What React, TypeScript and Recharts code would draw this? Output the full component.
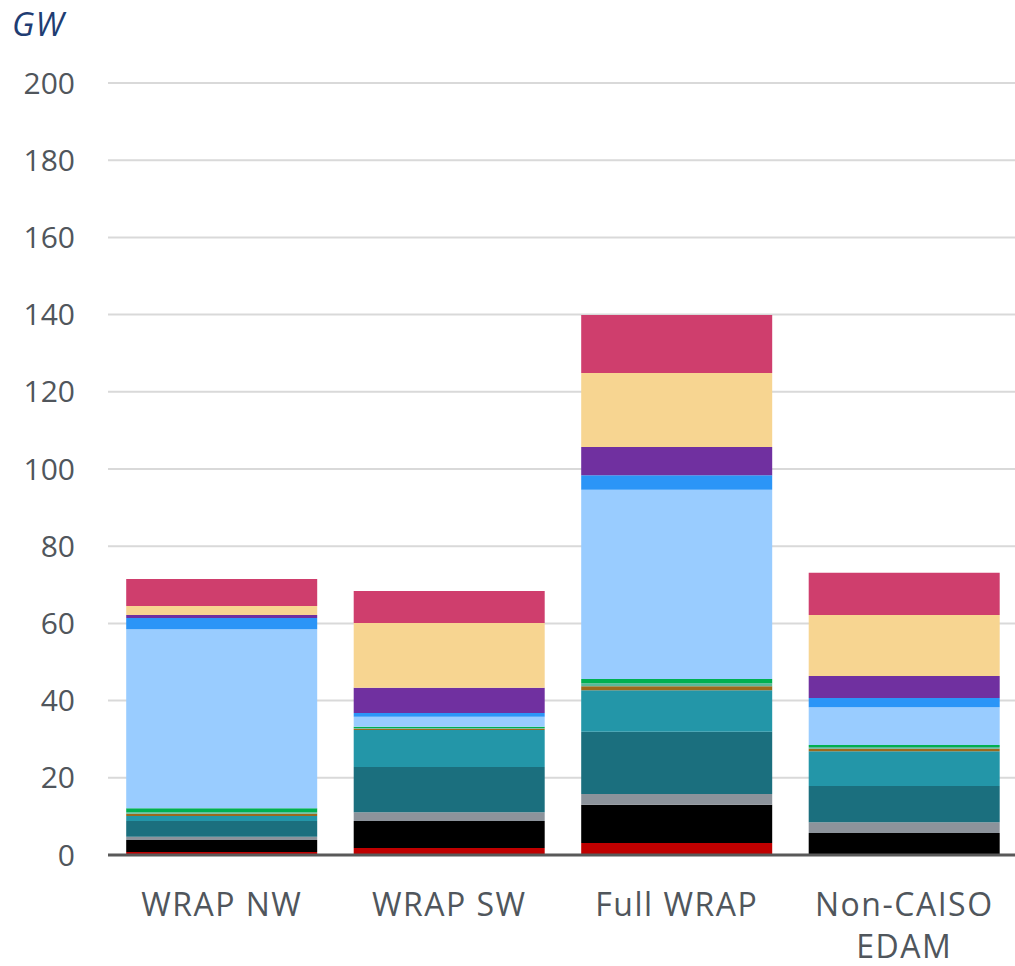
import React from "react";
import { BarChart, Bar, XAxis, YAxis, CartesianGrid } from "recharts";

const categories = ["WRAP NW", "WRAP SW", "Full WRAP", "Non-CAISO EDAM"];
const categoryLines: string[][] = [["WRAP NW"], ["WRAP SW"], ["Full WRAP"], ["Non-CAISO", "EDAM"]];

const red = [0.8, 1.8, 3.1, 0.2];
const black = [3.1, 7.0, 9.9, 5.5];
const gray = [0.8, 2.3, 2.8, 2.8];
const darkTeal = [4.1, 11.7, 16.1, 9.4];
const teal = [1.3, 9.6, 10.8, 9.0];
const brown = [0.6, 0.3, 1.0, 0.6];
const seafoam = [0.4, 0.2, 0.8, 0.5];
const green = [1.0, 0.3, 1.1, 0.5];
const lightBlue = [46.4, 2.6, 49.0, 9.8];
const blue = [2.9, 1.0, 3.8, 2.4];
const purple = [0.8, 6.5, 7.3, 5.7];
const tan = [2.3, 16.8, 19.2, 15.8];
const pink = [7.0, 8.3, 15.0, 10.9];

const yTicks = [0, 20, 40, 60, 80, 100, 120, 140, 160, 180, 200];

const seriesList = [
  { key: "red", values: red, color: "#c00000" },
  { key: "black", values: black, color: "#000000" },
  { key: "gray", values: gray, color: "#8c939b" },
  { key: "darkTeal", values: darkTeal, color: "#1b6f7e" },
  { key: "teal", values: teal, color: "#2396a8" },
  { key: "brown", values: brown, color: "#9b6a1c" },
  { key: "seafoam", values: seafoam, color: "#5ab89a" },
  { key: "green", values: green, color: "#00b050" },
  { key: "lightBlue", values: lightBlue, color: "#99ccff" },
  { key: "blue", values: blue, color: "#2b95f7" },
  { key: "purple", values: purple, color: "#7030a0" },
  { key: "tan", values: tan, color: "#f7d591" },
  { key: "pink", values: pink, color: "#cf3e6d" },
];

const data = categories.map((c, i) => {
  const row: Record<string, any> = { name: c, idx: i };
  seriesList.forEach((s) => {
    row[s.key] = s.values[i];
  });
  return row;
});

const FONT = "'Open Sans', 'Noto Sans', sans-serif";

const XTick = (props: any) => {
  const { x, y, payload } = props;
  const idx = categories.indexOf(payload.value);
  const lines = categoryLines[idx] || [payload.value];
  return (
    <g>
      {lines.map((l, i) => (
        <text
          key={i}
          x={x}
          y={y + i * 42}
          dy="0.71em"
          textAnchor="middle"
          fill="#50565c"
          fontSize={32}
          letterSpacing={1.5}
          fontFamily={FONT}
        >
          {l}
        </text>
      ))}
    </g>
  );
};

export default function App() {
  return (
    <div style={{ position: "absolute", left: 0, top: 0, width: 1015, height: 966, background: "#fff" }}>
      <div
        style={{
          position: "absolute",
          left: 12,
          top: 1,
          fontFamily: FONT,
          fontStyle: "italic",
          fontWeight: 400,
          fontSize: 33,
          letterSpacing: 1,
          color: "#1f3d73",
        }}
      >
        GW
      </div>
      <BarChart
        width={1018}
        height={966}
        data={data}
        margin={{ top: 83, right: 0, bottom: 0, left: 0 }}
        barCategoryGap="8%"
      >
        <CartesianGrid vertical={false} stroke="#d9d9d9" strokeWidth={2} />
        <XAxis
          dataKey="name"
          tickLine={false}
          axisLine={{ stroke: "#595959", strokeWidth: 3 }}
          tickSize={0}
          tickMargin={38}
          tick={<XTick />}
          interval={0}
          height={111}
        />
        <YAxis
          domain={[0, 200]}
          ticks={yTicks}
          axisLine={false}
          tickLine={false}
          tickSize={0}
          tickMargin={33}
          width={108}
          tick={{ fill: "#50565c", fontSize: 30, fontFamily: FONT }}
        />
        {seriesList.map((s) => (
          <Bar key={s.key} dataKey={s.key} stackId="a" fill={s.color} isAnimationActive={false} />
        ))}
      </BarChart>
    </div>
  );
}
